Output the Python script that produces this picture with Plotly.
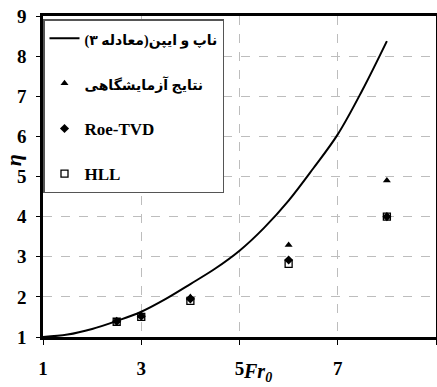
import plotly.graph_objects as go

# Knapp & Ippen curve
curve_fr = [1.0, 1.5, 2.0, 2.5, 3.0, 3.5, 4.0, 4.5, 5.0, 5.5, 6.0, 6.5, 7.0, 7.5, 8.0]
curve_eta = [1.0, 1.06, 1.2, 1.4, 1.63, 1.95, 2.32, 2.7, 3.15, 3.72, 4.4, 5.2, 6.05, 7.15, 8.375]

# experimental and numerical results
pts_fr = [2.5, 3.0, 4.0, 6.0, 8.0]
exp_eta = [1.39, 1.52, 2.0, 3.29, 4.9]
roe_eta = [1.39, 1.52, 1.95, 2.92, 4.0]
hll_eta = [1.38, 1.5, 1.9, 2.82, 4.0]

FA = "<span style='font-size:14px'>\u200f{}\u200f</span>"
names = [FA.format("ناپ و ایپن(معادله ۳)"), FA.format("نتایج آزمایشگاهی"), "Roe-TVD", "HLL"]

x_ticks = [1, 3, 5, 7, 9]
y_ticks = [1, 2, 3, 4, 5, 6, 7, 8, 9]

FONT = "Liberation Serif, Times New Roman, DejaVu Sans, serif"

fig = go.Figure()
fig.add_trace(go.Scatter(x=curve_fr, y=curve_eta, mode="lines", name=names[0],
                         line=dict(color="black", width=2, shape="spline"),
                         legendgroup="a"))
fig.add_trace(go.Scatter(x=pts_fr, y=exp_eta, mode="markers", name=names[1],
                         marker=dict(symbol="triangle-up", size=7, color="black"),
                         legendgroup="b"))
fig.add_trace(go.Scatter(x=pts_fr, y=roe_eta, mode="markers", name=names[2],
                         marker=dict(symbol="diamond", size=7, color="black"),
                         legendgroup="c"))
fig.add_trace(go.Scatter(x=pts_fr, y=hll_eta, mode="markers", name=names[3],
                         marker=dict(symbol="square-open", size=7, color="black",
                                     line=dict(width=1.3, color="black")),
                         legendgroup="d"))

axis_common = dict(showline=True, linecolor="black", linewidth=2.5, mirror=True,
                   showgrid=True, gridcolor="#bdbdbd", griddash="dash", gridwidth=1,
                   zeroline=False, ticks="outside", tickcolor="black", tickwidth=1,
                   automargin=False,
                   tickfont=dict(family=FONT, size=19, color="black", weight="bold"))

fig.update_xaxes(range=[1, 9], tickvals=x_ticks, ticklen=5, ticklabelstandoff=7,
                 **axis_common)
fig.update_yaxes(range=[1, 9], tickvals=y_ticks, ticklen=4, ticklabelstandoff=6,
                 **axis_common)

fig.add_annotation(x=5.04, xref="x", y=-0.11, yref="paper", xanchor="left", yanchor="middle",
                   text="<b><i>Fr</i></b><sub><b><i>0</i></b></sub>", showarrow=False,
                   font=dict(family=FONT, size=20, color="black"))
fig.add_annotation(x=-0.074, xref="paper", y=0.55, yref="paper", xanchor="center",
                   yanchor="middle", text="<b><i>η</i></b>", textangle=-90, showarrow=False,
                   font=dict(family=FONT, size=22, color="black"))

fig.update_layout(
    width=437, height=387,
    margin=dict(l=43, r=1, t=16, b=50),
    paper_bgcolor="white", plot_bgcolor="white",
    showlegend=True,
    legend=dict(x=0.0, y=0.99, xanchor="left", yanchor="top",
                bgcolor="white", bordercolor="#555555", borderwidth=1.5,
                traceorder="grouped", tracegroupgap=20, itemwidth=30,
                font=dict(family=FONT, size=17, color="black", weight="bold")),
)

fig.write_html("out.html", config={"displayModeBar": False},
               post_script="document.body.style.margin='0';")
